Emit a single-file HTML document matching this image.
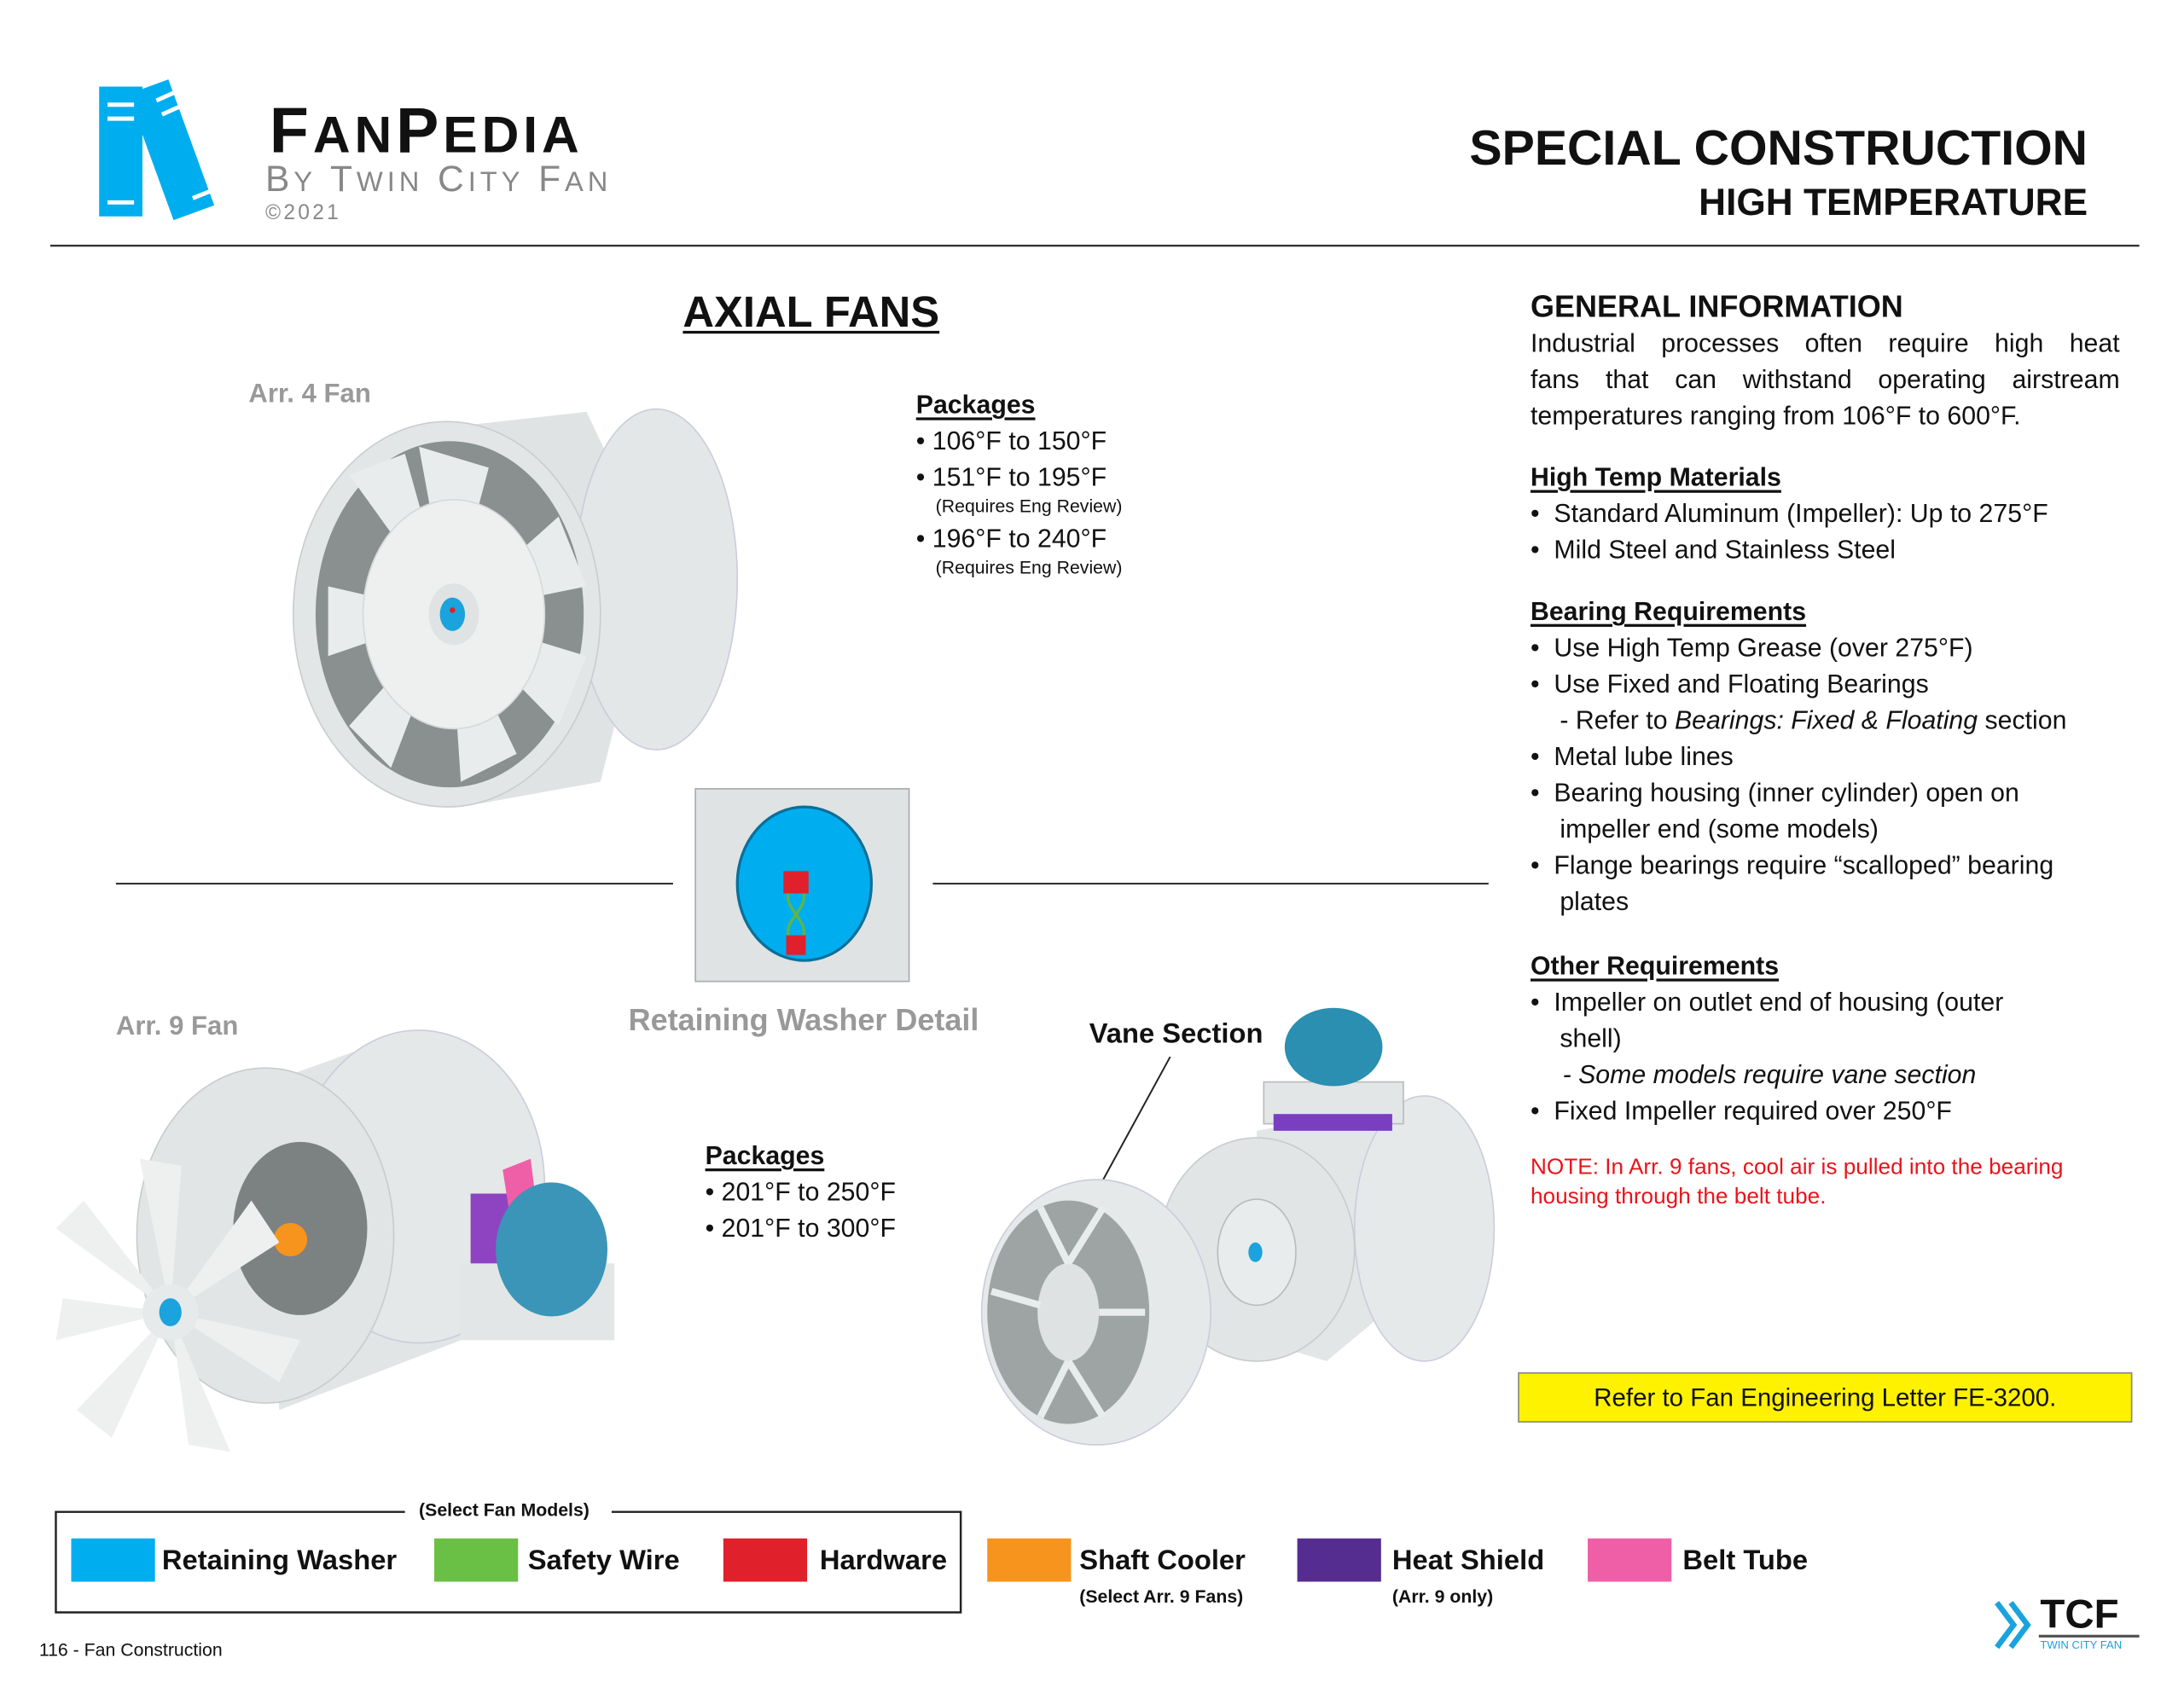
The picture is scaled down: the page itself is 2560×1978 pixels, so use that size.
<!DOCTYPE html>
<html><head><meta charset="utf-8"><style>
html,body{margin:0;padding:0;background:#fff;width:2560px;height:1978px;overflow:hidden}
#p{position:absolute;left:0;top:0;width:1564px;height:1208px;transform:scale(1.63683);transform-origin:0 0;font-family:"Liberation Sans Narrow","Liberation Sans",sans-serif;color:#111}
.t{position:absolute;white-space:nowrap;line-height:1}
.b{font-weight:bold}
.u{text-decoration:underline;text-decoration-thickness:2px;text-underline-offset:3px}
.sw{position:absolute;width:60px;height:31px}
.f19{font-size:18.5px}
</style></head><body><div id="p">
<svg style="position:absolute;left:0;top:0" width="1564" height="1208">
<rect x="71" y="62" width="31" height="93" fill="#00aeef"/>
<g transform="rotate(-20 120 105)"><rect x="106" y="60" width="31" height="96" fill="#00aeef"/></g>
<g stroke="#fff" stroke-width="3"><line x1="77" y1="75" x2="96" y2="75"/><line x1="77" y1="85" x2="96" y2="85"/><line x1="77" y1="145" x2="96" y2="145"/>
<line x1="112" y1="72" x2="130" y2="64"/><line x1="116" y1="82" x2="134" y2="74"/><line x1="138" y1="142" x2="158" y2="134"/></g>
<line x1="36" y1="176" x2="1532" y2="176" stroke="#333" stroke-width="1.5"/>
<line x1="83" y1="633" x2="482" y2="633" stroke="#333" stroke-width="1.3"/>
<line x1="668" y1="633" x2="1066" y2="633" stroke="#333" stroke-width="1.3"/>
<path d="M330 305 L420 295 L470 400 L430 560 L330 578Z" fill="#dfe3e3"/>
<ellipse cx="470" cy="415" rx="58" ry="122" fill="#e4e7e7" stroke="#ccd" />
<ellipse cx="320" cy="440" rx="110" ry="138" fill="#e3e6e6" stroke="#c9cdcd"/>
<ellipse cx="322" cy="440" rx="96" ry="124" fill="#8a9090"/>
<g fill="#e9ecec"><path d="M322 440 L250 340 L290 325Z"/><path d="M322 440 L300 320 L350 335Z"/><path d="M322 440 L400 370 L420 420Z"/><path d="M322 440 L420 470 L400 520Z"/><path d="M322 440 L370 540 L330 560Z"/><path d="M322 440 L280 550 L250 520Z"/><path d="M322 440 L235 470 L235 420Z"/></g>
<ellipse cx="325" cy="440" rx="65" ry="82" fill="#eef0f0" stroke="#d5d9d9"/>
<ellipse cx="325" cy="440" rx="18" ry="22" fill="#dfe3e3"/>
<ellipse cx="324" cy="440" rx="9" ry="12" fill="#1aa3dd"/>
<circle cx="324" cy="437" r="2" fill="#e02020"/>
<rect x="498" y="565" width="153" height="138" fill="#dfe3e3" stroke="#aaa"/>
<ellipse cx="576" cy="633" rx="48" ry="55" fill="#00aeef" stroke="#0b6f99" stroke-width="2"/>
<path d="M570 632 C590 650,550 660,570 678 M570 632 C550 650,590 660,570 678" stroke="#5fb643" stroke-width="2" fill="none"/>
<rect x="561" y="624" width="18" height="16" fill="#e0202a"/>
<rect x="563" y="670" width="14" height="14" fill="#e0202a"/>
<path d="M180 780 L290 740 L380 870 L330 960 L200 1010Z" fill="#e2e5e5"/>
<ellipse cx="300" cy="850" rx="90" ry="112" fill="#e5e8e8" stroke="#ccd"/>
<ellipse cx="190" cy="885" rx="92" ry="120" fill="#e2e5e5" stroke="#c8cccc"/>
<ellipse cx="215" cy="880" rx="48" ry="62" fill="#7c8282"/>
<circle cx="208" cy="888" r="12" fill="#f7941d"/>
<rect x="337" y="855" width="35" height="80" fill="#8e44c0"/>
<path d="M360 838 L380 830 L385 870 L365 870Z" fill="#ee5fa7"/>
<rect x="330" y="905" width="110" height="55" fill="#e3e6e6"/>
<ellipse cx="395" cy="895" rx="40" ry="48" fill="#3a95b8"/>
<g fill="#eef0f0"><path d="M122 940 L40 880 L60 860Z"/><path d="M122 940 L100 830 L130 835Z"/><path d="M122 940 L180 860 L200 890Z"/><path d="M122 940 L215 960 L200 990Z"/><path d="M122 940 L165 1040 L135 1035Z"/><path d="M122 940 L80 1030 L55 1010Z"/><path d="M122 940 L40 960 L45 930Z"/></g>
<circle cx="122" cy="940" r="20" fill="#e7eaea"/><ellipse cx="122" cy="940" rx="8" ry="10" fill="#1aa3dd"/>
<line x1="838" y1="757" x2="790" y2="845" stroke="#222" stroke-width="1.2"/>
<path d="M900 810 L1010 790 L1040 900 L950 975 L900 960Z" fill="#e3e6e6"/>
<ellipse cx="1020" cy="880" rx="50" ry="95" fill="#e6e9e9" stroke="#ccd"/>
<ellipse cx="900" cy="895" rx="70" ry="80" fill="#e2e5e5" stroke="#c8cccc"/>
<ellipse cx="900" cy="897" rx="28" ry="38" fill="#e9ecec" stroke="#bbb"/>
<ellipse cx="899" cy="897" rx="5" ry="7" fill="#1aa3dd"/>
<rect x="905" y="775" width="100" height="30" fill="#e3e6e6" stroke="#bbb"/>
<rect x="912" y="798" width="85" height="12" fill="#7a3fc0"/>
<ellipse cx="955" cy="750" rx="35" ry="28" fill="#2a8fb0"/>
<ellipse cx="785" cy="940" rx="82" ry="95" fill="#e6e9e9" stroke="#ccd"/>
<ellipse cx="765" cy="940" rx="58" ry="80" fill="#9ea4a4"/>
<ellipse cx="765" cy="940" rx="22" ry="35" fill="#dfe2e2"/>
<g stroke="#e9ecec" stroke-width="5"><line x1="765" y1="905" x2="745" y2="865"/><line x1="765" y1="905" x2="790" y2="865"/><line x1="745" y1="935" x2="710" y2="925"/><line x1="787" y1="940" x2="820" y2="940"/><line x1="765" y1="975" x2="745" y2="1015"/><line x1="765" y1="975" x2="790" y2="1015"/></g>
<path d="M290 1083 H40 V1155 H688 V1083 H438" fill="none" stroke="#222" stroke-width="1.5"/>
<path d="M1430 1148 L1442 1164 L1430 1180 M1440 1148 L1452 1164 L1440 1180" stroke="#1aa3dd" stroke-width="4" fill="none"/>
<line x1="1460" y1="1172" x2="1532" y2="1172" stroke="#555" stroke-width="2"/>
</svg>
<div class="t b" style="left:193px;top:70px;font-family:'Liberation Sans',sans-serif;font-size:46px;letter-spacing:3px">F<span style="font-size:37px">AN</span>P<span style="font-size:37px">EDIA</span></div>
<div class="t" style="left:190px;top:115px;font-family:'Liberation Sans',sans-serif;font-size:26px;color:#888;letter-spacing:3px">B<span style="font-size:20px">Y</span> T<span style="font-size:20px">WIN</span> C<span style="font-size:20px">ITY</span> F<span style="font-size:20px">AN</span></div>
<div class="t" style="left:190px;top:145px;font-family:'Liberation Sans',sans-serif;font-size:15px;color:#888;letter-spacing:2px">©2021</div>
<div class="t b" style="right:69px;top:89px;font-size:35px">SPECIAL CONSTRUCTION</div>
<div class="t b" style="right:69px;top:132px;font-size:27px">HIGH TEMPERATURE</div>
<div class="t b u" style="left:489px;top:208px;font-size:31px">AXIAL FANS</div>
<div class="t b" style="left:178px;top:273px;font-size:19px;color:#999">Arr. 4 Fan</div>
<div class="t b" style="left:83px;top:726px;font-size:19px;color:#999">Arr. 9 Fan</div>
<div class="t b" style="left:450px;top:720px;font-size:22px;color:#999">Retaining Washer Detail</div>
<div class="t b" style="left:780px;top:731px;font-size:20px">Vane Section</div>
<div class="t b u f19" style="left:656px;top:281px">Packages</div>
<div class="t f19" style="left:656px;top:307px">• 106°F to 150°F</div>
<div class="t f19" style="left:656px;top:333px">• 151°F to 195°F</div>
<div class="t" style="left:670px;top:356px;font-size:13px">(Requires Eng Review)</div>
<div class="t f19" style="left:656px;top:377px">• 196°F to 240°F</div>
<div class="t" style="left:670px;top:400px;font-size:13px">(Requires Eng Review)</div>
<div class="t b u f19" style="left:505px;top:819px">Packages</div>
<div class="t f19" style="left:505px;top:845px">• 201°F to 250°F</div>
<div class="t f19" style="left:505px;top:871px">• 201°F to 300°F</div>
<div class="t b" style="left:1096px;top:209px;font-size:22px">GENERAL INFORMATION</div>
<div class="t f19" style="left:1096px;top:237px;width:422px;display:flex;justify-content:space-between"><span>Industrial</span><span>processes</span><span>often</span><span>require</span><span>high</span><span>heat</span></div>
<div class="t f19" style="left:1096px;top:263px;width:422px;display:flex;justify-content:space-between"><span>fans</span><span>that</span><span>can</span><span>withstand</span><span>operating</span><span>airstream</span></div>
<div class="t f19" style="left:1096px;top:289px">temperatures ranging from 106°F to 600°F.</div>
<div class="t b u f19" style="left:1096px;top:333px">High Temp Materials</div>
<div class="t f19" style="left:1096px;top:359px">•&nbsp; Standard Aluminum (Impeller): Up to 275°F</div>
<div class="t f19" style="left:1096px;top:385px">•&nbsp; Mild Steel and Stainless Steel</div>
<div class="t b u f19" style="left:1096px;top:429px">Bearing Requirements</div>
<div class="t f19" style="left:1096px;top:455px">•&nbsp; Use High Temp Grease (over 275°F)</div>
<div class="t f19" style="left:1096px;top:481px">•&nbsp; Use Fixed and Floating Bearings</div>
<div class="t f19" style="left:1117px;top:507px">- Refer to <i>Bearings: Fixed &amp; Floating</i> section</div>
<div class="t f19" style="left:1096px;top:533px">•&nbsp; Metal lube lines</div>
<div class="t f19" style="left:1096px;top:559px">•&nbsp; Bearing housing (inner cylinder) open on</div>
<div class="t f19" style="left:1117px;top:585px">impeller end (some models)</div>
<div class="t f19" style="left:1096px;top:611px">•&nbsp; Flange bearings require “scalloped” bearing</div>
<div class="t f19" style="left:1117px;top:637px">plates</div>
<div class="t b u f19" style="left:1096px;top:683px">Other Requirements</div>
<div class="t f19" style="left:1096px;top:709px">•&nbsp; Impeller on outlet end of housing (outer</div>
<div class="t f19" style="left:1117px;top:735px">shell)</div>
<div class="t f19" style="left:1119px;top:761px"><i>- Some models require vane section</i></div>
<div class="t f19" style="left:1096px;top:787px">•&nbsp; Fixed Impeller required over 250°F</div>
<div class="t" style="left:1096px;top:829px;font-size:16px;color:#e8141b">NOTE: In Arr. 9 fans, cool air is pulled into the bearing</div>
<div class="t" style="left:1096px;top:850px;font-size:16px;color:#e8141b">housing through the belt tube.</div>
<div style="position:absolute;left:1087px;top:983px;width:438px;height:34px;background:#fff200;border:1px solid #888;font-size:18px;line-height:34px;text-align:center">Refer to Fan Engineering Letter FE-3200.</div>
<div class="t b" style="left:300px;top:1075px;font-size:13px">(Select Fan Models)</div>
<div class="sw" style="left:51px;top:1102px;background:#00aeef"></div><div class="t b" style="left:116px;top:1108px;font-size:20px">Retaining Washer</div>
<div class="sw" style="left:311px;top:1102px;background:#6abf45"></div><div class="t b" style="left:378px;top:1108px;font-size:20px">Safety Wire</div>
<div class="sw" style="left:518px;top:1102px;background:#e0202a"></div><div class="t b" style="left:587px;top:1108px;font-size:20px">Hardware</div>
<div class="sw" style="left:707px;top:1102px;background:#f7941d"></div><div class="t b" style="left:773px;top:1108px;font-size:20px">Shaft Cooler</div>
<div class="t b" style="left:773px;top:1137px;font-size:13px">(Select Arr. 9 Fans)</div>
<div class="sw" style="left:929px;top:1102px;background:#552d91"></div><div class="t b" style="left:997px;top:1108px;font-size:20px">Heat Shield</div>
<div class="t b" style="left:997px;top:1137px;font-size:13px">(Arr. 9 only)</div>
<div class="sw" style="left:1137px;top:1102px;background:#ee5fa7"></div><div class="t b" style="left:1205px;top:1108px;font-size:20px">Belt Tube</div>
<div class="t" style="left:28px;top:1175px;font-size:13px">116 - Fan Construction</div>
<div class="t b" style="left:1461px;top:1143px;font-size:29px;font-family:'Liberation Sans',sans-serif">TCF</div>
<div class="t" style="left:1461px;top:1175px;font-size:8px;color:#1aa3dd;font-family:'Liberation Sans',sans-serif">TWIN CITY FAN</div>
</div></body></html>
